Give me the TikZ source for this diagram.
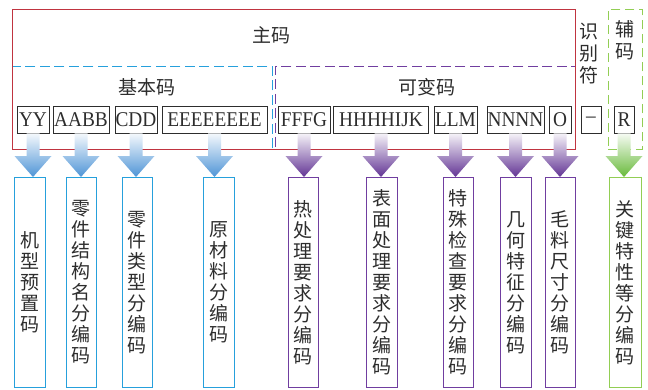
\documentclass[tikz,border=0pt]{standalone}
\usepackage{fontspec}
\setmainfont{Liberation Serif}
\newfontfamily\codefont[FakeStretch=0.92]{Liberation Serif}
\newfontfamily\cjk{Noto Sans CJK SC}
\usetikzlibrary{calc}
\definecolor{txt}{RGB}{45,45,45}
\definecolor{mainred}{RGB}{192,52,64}
\definecolor{cyanb}{RGB}{38,160,220}
\definecolor{purp}{RGB}{112,62,160}
\definecolor{grn}{RGB}{146,206,84}
\definecolor{arrb}{RGB}{78,148,214}
\definecolor{arrp}{RGB}{98,52,148}
\definecolor{arrg}{RGB}{104,186,58}
\tikzset{
  code/.style={draw=txt, line width=0.9pt, text=txt, inner sep=0pt, minimum height=27, font=\codefont\fontsize{21}{23}\selectfont},
  cjklabel/.style={text=txt, inner sep=0pt, font=\cjk\fontsize{19}{22}\selectfont, align=center},
  vbox/.style={draw=#1, line width=0.9pt, minimum width=30, minimum height=210, anchor=north, inner sep=0pt, text=txt, font=\cjk\fontsize{19}{21}\selectfont, align=center},
  dashbox/.style={draw=#1, line width=0.9pt, dash pattern=on 10pt off 4.5pt, anchor=north west, inner sep=0pt},
}
\newcommand\flowarrow[3]{%
  \shade[top color=#3!6!white, bottom color=#3] let \p1=(#1.south), \p2=(#2.north) in
   (\x1-6.5pt,\y1) -- (\x1+6.5pt,\y1) -- (\x1+6.5pt,\y2+21pt) -- (\x1+18.5pt,\y2+21pt)
   -- (\x1,\y2) -- (\x1-18.5pt,\y2+21pt) -- (\x1-6.5pt,\y2+21pt) -- cycle;}
\begin{document}
\begin{tikzpicture}[x=1pt,y=-1pt]
\useasboundingbox (0,0) rectangle (648,389);
% dashed groups
\node[dashbox=cyanb, minimum width=260, minimum height=83] (basic) at (12,66) {};
\node[dashbox=purp, minimum width=300, minimum height=83] (var) at (275,66) {};
\node[dashbox=grn, minimum width=34, minimum height=140, dash pattern=on 9pt off 5pt] (aux) at (608,9) {};
% main box
\node[draw=mainred, line width=0.9pt, minimum width=563, minimum height=140, anchor=north west, inner sep=0pt] (main) at (12,9) {};
% group labels
\node[cjklabel] (tmain) at (271,35) {主码};
\node[cjklabel] (tbasic) at (147,87) {基本码};
\node[cjklabel] (tvar) at (427,87) {可变码};
\node[cjklabel] (tid) at (589,54) {识\\别\\符};
\node[cjklabel] (taux) at (625,40) {辅\\码};
% code boxes
\node[code, minimum width=32] (yy) at (33,119.5) {YY};
\node[code, minimum width=56] (ab) at (81,119.5) {AABB};
\node[code, minimum width=42] (cd) at (136,119.5) {CDD};
\node[code, minimum width=105] (ee) at (214.5,119.5) {EEEEEEEE};
\node[code, minimum width=52] (ff) at (304,119.5) {FFFG};
\node[code, minimum width=95] (hh) at (381,119.5) {HHHHIJK};
\node[code, minimum width=43] (ll) at (455.5,119.5) {LLM};
\node[code, minimum width=57] (nn) at (515.5,119.5) {NNNN};
\node[code, minimum width=22] (oo) at (560,119.5) {O};
\node[code, minimum width=20] (dash) at (591,119.5) {–};
\node[code, minimum width=20] (rr) at (624,119.5) {R};
% bottom boxes
\node[vbox=cyanb, minimum width=31] (b1) at (29.5,177) {机\\型\\预\\置\\码};
\node[vbox=cyanb] (b2) at (81,177) {零\\件\\结\\构\\名\\分\\编\\码};
\node[vbox=cyanb] (b3) at (137,177) {零\\件\\类\\型\\分\\编\\码};
\node[vbox=cyanb, minimum width=31] (b4) at (218.5,177) {原\\材\\料\\分\\编\\码};
\node[vbox=purp] (b5) at (303,177) {热\\处\\理\\要\\求\\分\\编\\码};
\node[vbox=purp, minimum width=31] (b6) at (381.5,177) {表\\面\\处\\理\\要\\求\\分\\编\\码};
\node[vbox=purp] (b7) at (458,177) {特\\殊\\检\\查\\要\\求\\分\\编\\码};
\node[vbox=purp, minimum width=31] (b8) at (515.5,177) {几\\何\\特\\征\\分\\编\\码};
\node[vbox=purp] (b9) at (560,177) {毛\\料\\尺\\寸\\分\\编\\码};
\node[vbox=grn, minimum width=32] (b10) at (625,177) {关\\键\\特\\性\\等\\分\\编\\码};
% arrows
\flowarrow{yy}{b1}{arrb}
\flowarrow{ab}{b2}{arrb}
\flowarrow{cd}{b3}{arrb}
\flowarrow{ee}{b4}{arrb}
\flowarrow{ff}{b5}{arrp}
\flowarrow{hh}{b6}{arrp}
\flowarrow{ll}{b7}{arrp}
\flowarrow{nn}{b8}{arrp}
\flowarrow{oo}{b9}{arrp}
\flowarrow{rr}{b10}{arrg}
\end{tikzpicture}
\end{document}
